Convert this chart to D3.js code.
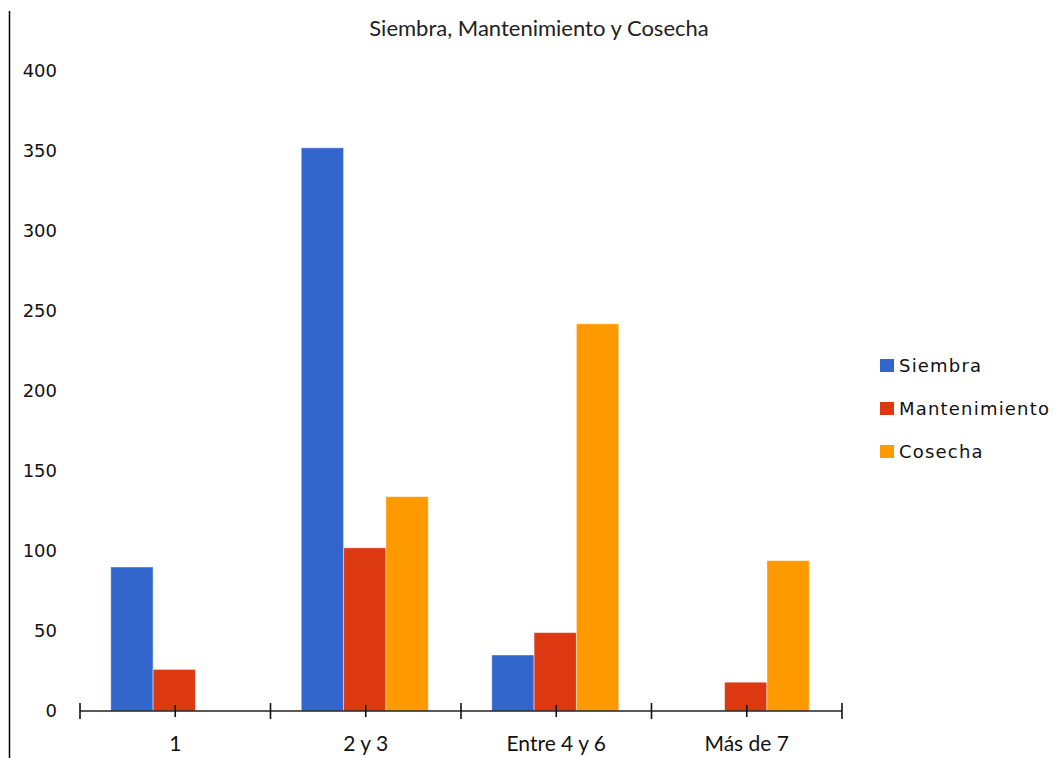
<!DOCTYPE html>
<html>
<head>
<meta charset="utf-8">
<script src="https://cdn.jsdelivr.net/npm/d3@7"></script>
<style>
  html, body { margin: 0; padding: 0; background: #fff; }
  svg { display: block; }
</style>
</head>
<body>
<svg id="chart" width="1054" height="758"></svg>
<script>
// Categories (number of workers) and series values
const categories = ["1", "2 y 3", "Entre 4 y 6", "Más de 7"];
const seriesNames = ["Siembra", "Mantenimiento", "Cosecha"];
const siembra = [90, 352, 35, 0];
const mantenimiento = [26, 102, 49, 18];
const cosecha = [0, 134, 242, 94];
const yTicks = [0, 50, 100, 150, 200, 250, 300, 350, 400];
const colors = ["#3366cc", "#dc3912", "#ff9900"];
const title = "Siembra, Mantenimiento y Cosecha";

const seriesValues = [siembra, mantenimiento, cosecha];
const rows = categories.map((c, i) => ({
  category: c,
  values: seriesNames.map((s, j) => ({ series: s, value: seriesValues[j][i] }))
}));

const svg = d3.select("#chart");
const plot = { left: 80, right: 842, top: 71, bottom: 711 };

const x0 = d3.scaleBand().domain(categories).range([plot.left, plot.right]).paddingInner(0).paddingOuter(0);
const x1 = d3.scaleBand().domain(seriesNames).range([0, x0.bandwidth()]).paddingInner(0).paddingOuter(0.75);
const y = d3.scaleLinear().domain([0, 400]).range([plot.bottom, plot.top]);
const color = d3.scaleOrdinal().domain(seriesNames).range(colors);

// Frame line on the left
svg.append("line")
  .attr("x1", 9.5).attr("x2", 9.5).attr("y1", 11).attr("y2", 758)
  .attr("stroke", "#000").attr("stroke-width", 1.5);

// Title
svg.append("text")
  .attr("x", 539).attr("y", 36)
  .attr("text-anchor", "middle")
  .attr("font-family", "Lato, sans-serif")
  .attr("font-size", 22)
  .attr("fill", "#222")
  .text(title);

// Y axis tick labels (no axis line)
const yAxis = d3.axisLeft(y).tickValues(yTicks).tickSize(0).tickPadding(0);
const yg = svg.append("g").attr("transform", "translate(57,0)").call(yAxis);
yg.select(".domain").remove();
yg.selectAll("text")
  .attr("font-family", "'DejaVu Sans', sans-serif")
  .attr("font-size", 18)
  .attr("fill", "#111");

// Bars
const groups = svg.append("g").selectAll("g")
  .data(rows).join("g")
  .attr("transform", d => `translate(${x0(d.category)},0)`);

groups.selectAll("rect")
  .data(d => d.values.filter(v => v.value > 0))
  .join("rect")
  .attr("x", d => x1(d.series) - 1)
  .attr("width", x1.bandwidth())
  .attr("y", d => y(d.value))
  .attr("height", d => y(0) - y(d.value))
  .attr("fill", d => color(d.series))
  .attr("stroke", "rgba(255,255,255,0.45)")
  .attr("stroke-width", 1);

// X axis: baseline with category boundary ticks and centre ticks
const xg = svg.append("g").attr("transform", `translate(0,${plot.bottom})`);
xg.append("line")
  .attr("x1", plot.left).attr("x2", plot.right)
  .attr("stroke", "#222").attr("stroke-width", 1.6);

const boundaries = categories.map(c => x0(c)).concat([x0(categories[categories.length - 1]) + x0.bandwidth()]);
xg.selectAll("line.bound")
  .data(boundaries).join("line")
  .attr("class", "bound")
  .attr("x1", d => d).attr("x2", d => d)
  .attr("y1", -8).attr("y2", 8)
  .attr("stroke", "#111").attr("stroke-width", 1.6);

xg.selectAll("line.mid")
  .data(categories).join("line")
  .attr("class", "mid")
  .attr("x1", d => x0(d) + x0.bandwidth() / 2).attr("x2", d => x0(d) + x0.bandwidth() / 2)
  .attr("y1", -6).attr("y2", 6)
  .attr("stroke", "#111").attr("stroke-width", 1.6);

const xAxis = d3.axisBottom(x0).tickSize(0).tickPadding(0);
const xl = svg.append("g").attr("transform", `translate(0,${plot.bottom + 40})`).call(xAxis);
xl.select(".domain").remove();
xl.selectAll("text")
  .attr("dy", 0)
  .attr("font-family", "Lato, sans-serif")
  .attr("font-size", 21)
  .attr("fill", "#111");

// Legend
const legend = svg.append("g").selectAll("g")
  .data(seriesNames).join("g")
  .attr("transform", (d, i) => `translate(880,${359 + i * 43})`);
legend.append("rect")
  .attr("width", 14).attr("height", 13)
  .attr("fill", d => color(d));
legend.append("text")
  .attr("x", 19).attr("y", 13)
  .attr("font-family", "'DejaVu Sans', sans-serif")
  .attr("font-size", 18)
  .attr("letter-spacing", 1.2)
  .attr("fill", "#111")
  .text(d => d);
</script>
</body>
</html>
